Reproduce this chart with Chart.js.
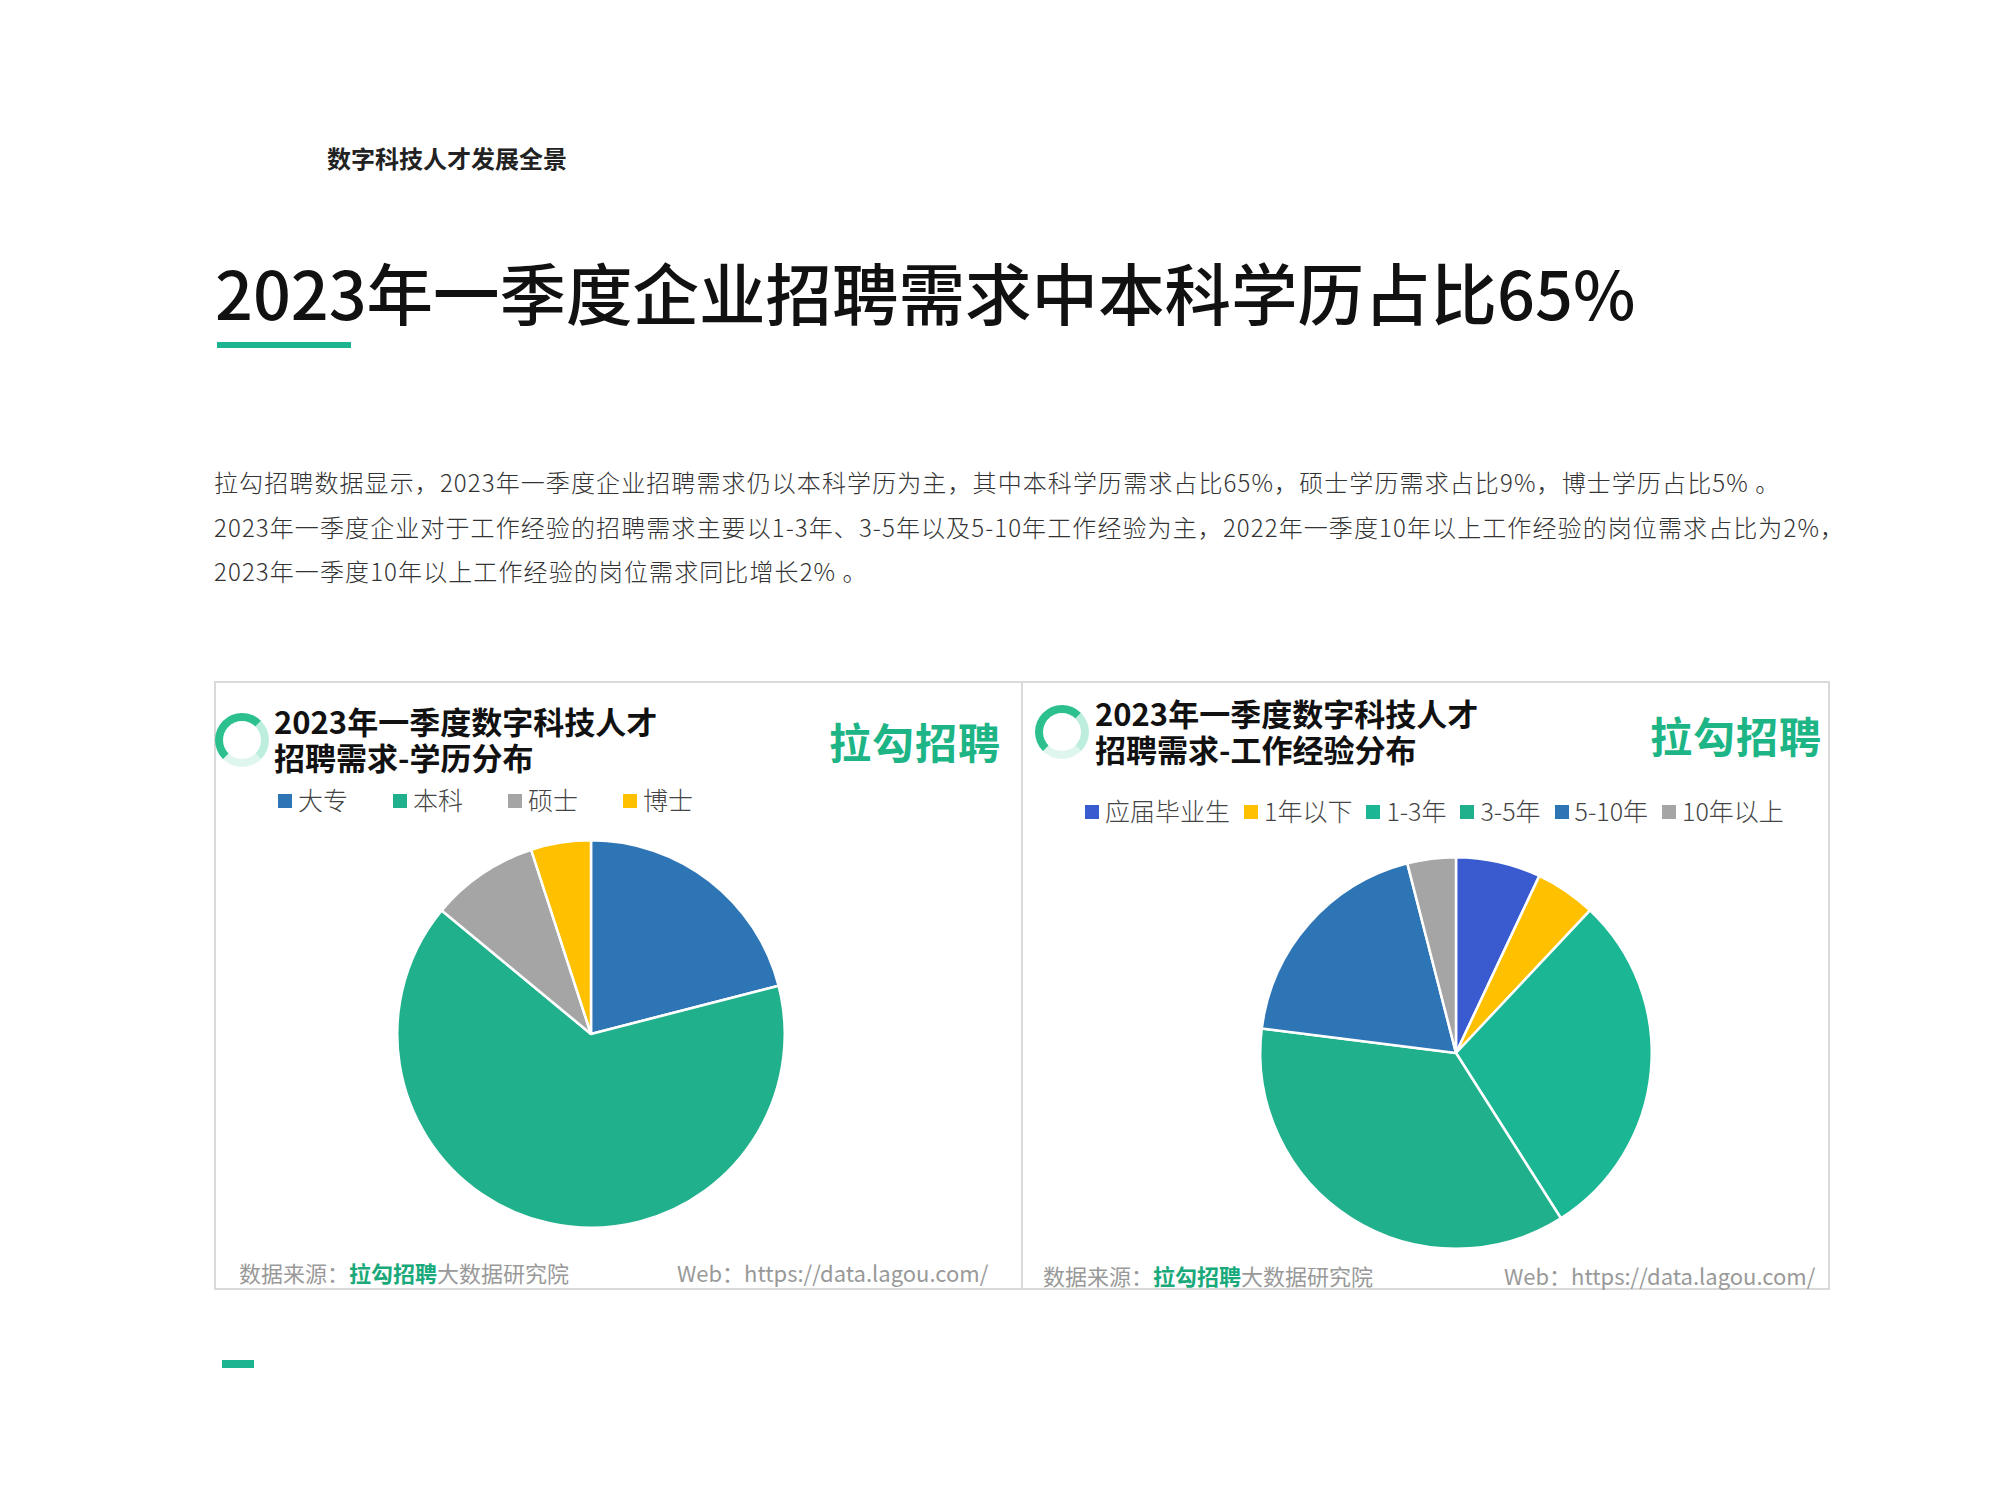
<!DOCTYPE html>
<html>
<head>
<meta charset="utf-8">
<script src="https://cdn.jsdelivr.net/npm/chart.js@4.4.0/dist/chart.umd.min.js"></script>
<style>
  body { margin:0; width:2000px; height:1500px; background:#fff; position:relative;
         font-family:"Noto Sans CJK SC","Noto Sans",sans-serif; color:#222; overflow:hidden; }
  .abs { position:absolute; white-space:nowrap; }
  .panel { position:absolute; border:2px solid #d9d9d9; box-sizing:border-box; }
  .ptitle { font-weight:bold; font-size:31px; line-height:36px; color:#111; }
  .logo { font-weight:bold; font-size:42px; color:#1db586; letter-spacing:1px; }
  .foot { font-size:22px; color:#999; }
  .foot b { color:#1aa97b; }
  .ring { position:absolute; width:38px; height:38px; border-radius:50%;
          border:8px solid #2cc08f; border-right-color:#bdeedd; border-bottom-color:#dff6ee; }
  .legend { position:absolute; font-size:25px; color:#444; display:flex; font-weight:300; }
  .legend span.sw { display:inline-block; width:14px; height:14px; margin-right:6px; vertical-align:middle; position:relative; top:-2px; }
  .para { font-size:24px; color:#333; letter-spacing:1.1px; font-weight:300; }
</style>
</head>
<body>
<div class="abs" style="left:327px;top:140px;font-size:24px;font-weight:bold;">数字科技人才发展全景</div>
<div class="abs" style="left:215px;top:243px;font-size:66.5px;font-weight:500;color:#111;">2023年一季度企业招聘需求中本科学历占比65%</div>
<div class="abs" style="left:217px;top:342px;width:134px;height:6px;background:#1db591;"></div>

<div class="abs para" style="left:214px;top:464px;">拉勾招聘数据显示，2023年一季度企业招聘需求仍以本科学历为主，其中本科学历需求占比65%，硕士学历需求占比9%，博士学历占比5% 。</div>
<div class="abs para" style="left:214px;top:509px;">2023年一季度企业对于工作经验的招聘需求主要以1-3年、3-5年以及5-10年工作经验为主，2022年一季度10年以上工作经验的岗位需求占比为2%，</div>
<div class="abs para" style="left:214px;top:553px;">2023年一季度10年以上工作经验的岗位需求同比增长2% 。</div>

<div class="panel" style="left:214px;top:681px;width:809px;height:609px;"></div>
<div class="panel" style="left:1021px;top:681px;width:809px;height:609px;"></div>

<div class="ring" style="left:215px;top:713px;"></div>
<div class="abs ptitle" style="left:274px;top:703px;">2023年一季度数字科技人才<br>招聘需求-学历分布</div>
<div class="abs logo" style="left:829px;top:710px;">拉勾招聘</div>
<div id="legend1" class="legend" style="left:278px;top:781px;"></div>
<div class="abs foot" style="left:239px;top:1256px;">数据来源：<b>拉勾招聘</b>大数据研究院</div>
<div class="abs foot" style="left:677px;top:1256px;">Web：https://data.lagou.com/</div>

<div class="ring" style="left:1035px;top:705px;"></div>
<div class="abs ptitle" style="left:1095px;top:695px;">2023年一季度数字科技人才<br>招聘需求-工作经验分布</div>
<div class="abs logo" style="left:1650px;top:704px;">拉勾招聘</div>
<div id="legend2" class="legend" style="left:1085px;top:792px;"></div>
<div class="abs foot" style="left:1043px;top:1259px;">数据来源：<b>拉勾招聘</b>大数据研究院</div>
<div class="abs foot" style="left:1504px;top:1259px;">Web：https://data.lagou.com/</div>

<div class="abs" style="left:222px;top:1360px;width:32px;height:8px;background:#1db591;"></div>

<div class="abs" style="left:211px;top:834px;width:760px;height:400px;"><canvas id="c1"></canvas></div>
<div class="abs" style="left:1076px;top:851px;width:760px;height:404px;"><canvas id="c2"></canvas></div>

<script>
var eduLabels = ["大专", "本科", "硕士", "博士"];
var eduValues = [21, 65, 9, 5];
var eduColors = ["#2e75b6", "#21b08c", "#a5a5a5", "#ffc000"];

var expLabels = ["应届毕业生", "1年以下", "1-3年", "3-5年", "5-10年", "10年以上"];
var expValues = [7, 5, 29, 36, 19, 4];
var expColors = ["#3a5bcf", "#ffc000", "#1bb794", "#21b08c", "#2e75b6", "#a5a5a5"];

function makeLegend(id, labels, colors, gap)
{
    var el = document.getElementById(id);
    for (var i = 0; i < labels.length; i++)
    {
        var item = document.createElement("div");
        item.style.marginRight = gap + "px";
        item.innerHTML = '<span class="sw" style="background:' + colors[i] + '"></span>' + labels[i];
        el.appendChild(item);
    }
}

function makePie(id, labels, values, colors)
{
    new Chart(document.getElementById(id), {
        type: 'pie',
        data: {
            labels: labels,
            datasets: [{ data: values, backgroundColor: colors, borderColor: '#fff', borderWidth: 2.5 }]
        },
        options: {
            responsive: true,
            maintainAspectRatio: false,
            animation: false,
            layout: { padding: 5 },
            plugins: { legend: { display: false }, tooltip: { enabled: false } }
        }
    });
}

makeLegend("legend1", eduLabels, eduColors, 45);
makeLegend("legend2", expLabels, expColors, 14);
makePie("c1", eduLabels, eduValues, eduColors);
makePie("c2", expLabels, expValues, expColors);
</script>
</body>
</html>
